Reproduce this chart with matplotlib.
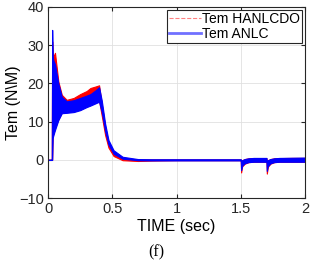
import matplotlib.pyplot as plt

plt.rcParams['font.family'] = ['Liberation Sans', 'DejaVu Sans']

# envelope of the torque ripple band
t = [0, 0.029, 0.032, 0.036, 0.042, 0.054, 0.08, 0.107, 0.145, 0.2, 0.25, 0.3, 0.33,
     0.37, 0.397, 0.418, 0.444, 0.47, 0.51, 0.58, 0.7, 0.8, 1.0, 1.2, 1.4, 1.499,
     1.502, 1.51, 1.53, 1.56, 1.6, 1.699, 1.702, 1.71, 1.73, 1.76, 1.8, 1.9, 2.0]
anlc_hi = [0, 0, 34, 27, 26, 25, 20, 16.5, 15.3, 15.6, 16.2, 16.8, 17.2,
           18.2, 19.0, 15.5, 9.5, 5.2, 2.5, 0.8, 0.2, 0.15, 0.15, 0.15, 0.15, 0.15,
           -0.4, -0.1, 0.2, 0.4, 0.5, 0.5, -0.4, -0.1, 0.2, 0.4, 0.5, 0.55, 0.6]
anlc_lo = [0, 0, 0, 5.7, 6.5, 7.8, 10.4, 12.2, 12.3, 12.5, 13.0, 13.8, 14.2,
           14.8, 15.2, 12.5, 7.5, 4.0, 1.6, 0.3, -0.1, -0.15, -0.15, -0.15, -0.15, -0.15,
           -2.7, -1.5, -0.9, -0.6, -0.5, -0.5, -2.9, -1.6, -0.9, -0.6, -0.5, -0.5, -0.5]
hanl_hi = [0, 0, 31, 28, 27, 28, 20.5, 17, 15.7, 16.2, 17.2, 18.0, 18.8,
           19.2, 19.5, 14.5, 8.5, 4.4, 1.9, 0.4, 0.1, 0.1, 0.1, 0.1, 0.1, 0.1,
           -0.4, -0.1, 0.2, 0.4, 0.45, 0.45, -0.4, -0.1, 0.2, 0.4, 0.45, 0.5, 0.5]
hanl_lo = [0, 0, 0, 6, 7, 8.5, 10.6, 12.4, 12.5, 12.7, 13.2, 14.0, 14.4,
           15.0, 15.4, 11.5, 6.5, 3.2, 1.0, -0.1, -0.3, -0.2, -0.1, -0.1, -0.1, -0.1,
           -3.3, -1.7, -1.0, -0.6, -0.5, -0.5, -3.6, -1.8, -1.0, -0.6, -0.5, -0.5, -0.5]

fig = plt.figure(figsize=(3.12, 2.68), dpi=100)
ax = fig.add_axes([0.154, 0.261, 0.824, 0.713])

ax.fill_between(t, hanl_lo, hanl_hi, color='red', lw=0.8)
ax.fill_between(t, anlc_lo, anlc_hi, color='blue', lw=0.8)
ax.plot([], [], '--', color='#ff8080', lw=0.8, label='Tem HANLCDO')
ax.plot([], [], '-', color='#7070ff', lw=2, label='Tem ANLC')

ax.set_xlim(0, 2)
ax.set_ylim(-10, 40)
ax.set_xticks([0, 0.5, 1, 1.5, 2])
ax.set_xticklabels(['0', '0.5', '1', '1.5', '2'])
ax.set_yticks([-10, 0, 10, 20, 30, 40])
ax.grid(True, color='#e0e0e0', lw=0.6)
ax.set_axisbelow(True)
ax.tick_params(direction='in', top=True, right=True, labelsize=10.5, length=3,
               colors='#262626', pad=3)
for s in ax.spines.values():
    s.set_color('#262626')
    s.set_linewidth(0.8)

ax.set_xlabel('TIME (sec)', fontsize=11.5, labelpad=2)
ax.set_ylabel('Tem (N\\M)', fontsize=11.5)
ax.yaxis.set_label_coords(-0.105, 0.5)

leg = ax.legend(loc='upper right', fontsize=10, fancybox=False, framealpha=1,
                edgecolor='#262626', borderpad=0.15, handlelength=2.3,
                handletextpad=0.1, labelspacing=0.05, borderaxespad=0.2)
leg.get_frame().set_linewidth(0.8)

fig.text(0.5, 0.045, '(f)', family=['Liberation Serif', 'DejaVu Serif'],
         fontsize=11.5, ha='center')

fig.savefig('out.png', dpi=100)
